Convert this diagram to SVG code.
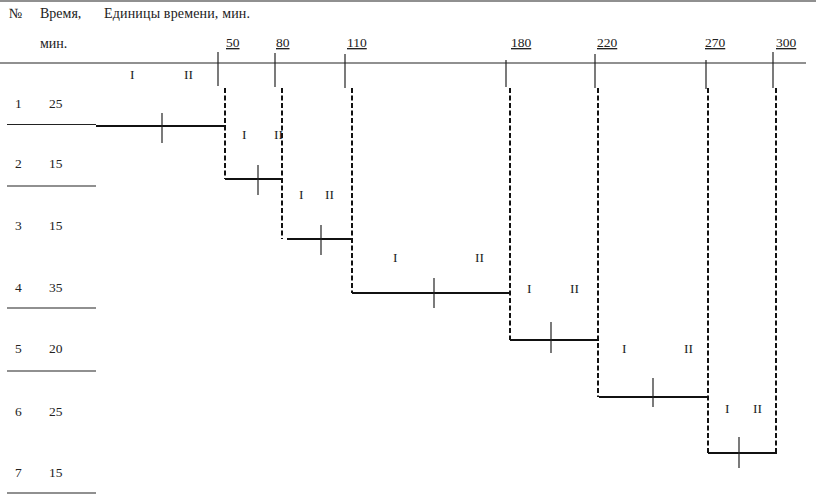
<svg xmlns="http://www.w3.org/2000/svg" width="816" height="498" viewBox="0 0 816 498">
<style>
text{font-family:"Liberation Serif","Times New Roman",serif;font-size:13.5px;fill:#222}
.h{font-size:14px}
.u{text-decoration:underline}
.thin{stroke:#222;stroke-width:1.2;fill:none}
.bar{stroke:#111;stroke-width:2.2;fill:none}
.tick{stroke:#222;stroke-width:1.2}
.dash{stroke:#111;stroke-width:2;stroke-dasharray:5 2.5;fill:none}
</style>
<rect width="816" height="498" fill="#fff"/>
<g id="header">
<line class="thin" x1="0" y1="1" x2="816" y2="1"/>
<text class="h" x="9" y="18">№</text>
<text class="h" x="40" y="18">Время,</text>
<text class="h" x="104" y="18" textLength="146">Единицы времени, мин.</text>
<text class="h" x="40" y="48">мин.</text>
<line class="thin" x1="0" y1="63" x2="806" y2="63"/>
</g>
<g id="axis">
<text class="u" x="226" y="47">50</text>
<text class="u" x="276" y="47">80</text>
<text class="u" x="347" y="47">110</text>
<text class="u" x="511" y="47">180</text>
<text class="u" x="597" y="47">220</text>
<text class="u" x="705" y="47">270</text>
<text class="u" x="776" y="47">300</text>
<line class="tick" x1="218" y1="52" x2="218" y2="86"/>
<line class="tick" x1="275" y1="53" x2="275" y2="87"/>
<line class="tick" x1="345" y1="54" x2="345" y2="88"/>
<line class="tick" x1="506" y1="60" x2="506" y2="87"/>
<line class="tick" x1="595" y1="54" x2="595" y2="88"/>
<line class="tick" x1="706" y1="60" x2="706" y2="89"/>
<line class="tick" x1="773" y1="52" x2="773" y2="88"/>
</g>
<g id="row1">
<text x="15" y="108">1</text><text x="49" y="108">25</text>
<line class="thin" x1="7" y1="124.5" x2="96" y2="124.5"/>
<line class="bar" x1="96" y1="126" x2="226" y2="126"/>
<line class="tick" x1="162" y1="113" x2="162" y2="143"/>
<text x="130" y="79">I</text><text x="184" y="79">II</text>
</g>
<g id="row2">
<text x="15" y="168">2</text><text x="49" y="168">15</text>
<line class="thin" x1="7" y1="186" x2="96" y2="186"/>
<line class="bar" x1="225" y1="179" x2="283" y2="179"/>
<line class="tick" x1="258" y1="165" x2="258" y2="195"/>
<text x="242" y="139">I</text><text x="274" y="139">II</text>
</g>
<g id="row3">
<text x="15" y="230">3</text><text x="49" y="230">15</text>
<line class="bar" x1="287" y1="239" x2="353" y2="239"/>
<line class="tick" x1="321" y1="225" x2="321" y2="255"/>
<text x="299" y="199">I</text><text x="325" y="199">II</text>
</g>
<g id="row4">
<text x="15" y="292">4</text><text x="49" y="292">35</text>
<line class="thin" x1="7" y1="308" x2="96" y2="308"/>
<line class="bar" x1="352" y1="293" x2="510" y2="293"/>
<line class="tick" x1="434" y1="278" x2="434" y2="308"/>
<text x="393" y="262">I</text><text x="475" y="262">II</text>
</g>
<g id="row5">
<text x="15" y="353">5</text><text x="49" y="353">20</text>
<line class="thin" x1="7" y1="371" x2="96" y2="371"/>
<line class="bar" x1="510" y1="340" x2="599" y2="340"/>
<line class="tick" x1="551" y1="322" x2="551" y2="353"/>
<text x="527" y="293">I</text><text x="570" y="293">II</text>
</g>
<g id="row6">
<text x="15" y="416">6</text><text x="49" y="416">25</text>
<line class="bar" x1="599" y1="397" x2="709" y2="397"/>
<line class="tick" x1="653" y1="378" x2="653" y2="407"/>
<text x="622" y="353">I</text><text x="684" y="353">II</text>
</g>
<g id="row7">
<text x="15" y="477">7</text><text x="49" y="477">15</text>
<line class="thin" x1="7" y1="493" x2="96" y2="493"/>
<line class="bar" x1="708" y1="453" x2="777" y2="453"/>
<line class="tick" x1="739" y1="437" x2="739" y2="468"/>
<text x="725" y="413">I</text><text x="753" y="413">II</text>
</g>
<g id="connectors">
<line class="dash" x1="225" y1="88" x2="225" y2="179"/>
<line class="dash" x1="282" y1="88" x2="282" y2="239"/>
<line class="dash" x1="352" y1="88" x2="352" y2="293"/>
<line class="dash" x1="510" y1="88" x2="510" y2="340"/>
<line class="dash" x1="598" y1="88" x2="598" y2="397"/>
<line class="dash" x1="708" y1="88" x2="708" y2="453"/>
<line class="dash" x1="776" y1="88" x2="776" y2="453"/>
</g>
</svg>
